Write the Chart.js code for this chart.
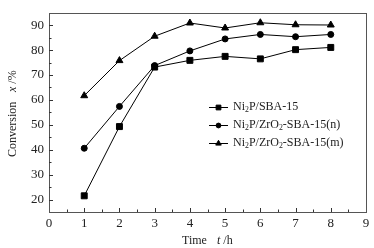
<!DOCTYPE html>
<html>
<head>
<meta charset="utf-8">
<script src="https://cdn.jsdelivr.net/npm/chart.js@4/dist/chart.umd.min.js"></script>
<style>
  html, body { margin: 0; padding: 0; background: #fff; }
  #wrap { width: 374px; height: 248px; }
</style>
</head>
<body>
<div id="wrap"><canvas id="chart" width="374" height="248"></canvas></div>
<script>
// time on stream, h
const hours = [1, 2, 3, 4, 5, 6, 7, 8];
// conversion x / %
const ni2pSba = [21.5, 49.3, 73.2, 75.9, 77.5, 76.5, 80.2, 81.1];
const ni2pZrN = [40.6, 57.4, 73.8, 79.7, 84.5, 86.3, 85.4, 86.3];
const ni2pZrM = [61.7, 75.8, 85.6, 90.9, 88.9, 91.0, 90.2, 90.1];

const seriesNames = ["Ni_2P/SBA-15", "Ni_2P/ZrO_2-SBA-15(n)", "Ni_2P/ZrO_2-SBA-15(m)"];
const yTicks = [20, 30, 40, 50, 60, 70, 80, 90];
const xTicks = [0, 1, 2, 3, 4, 5, 6, 7, 8, 9];

const serif = "'Liberation Serif', 'Times New Roman', serif";

function pts(ys) {
  return hours.map((h, i) => ({ x: h, y: ys[i] }));
}

// text with "_2" style subscripts
function drawSub(ctx, str, x, y, size) {
  const parts = str.split(/_(\d)/);
  for (let i = 0; i < parts.length; i++) {
    if (!parts[i]) continue;
    const sub = i % 2 === 1;
    ctx.font = (sub ? size * 0.65 : size) + "px " + serif;
    ctx.fillText(parts[i], x, sub ? y + 3 : y);
    x += ctx.measureText(parts[i]).width;
  }
}

const frame = {
  id: "frame",
  afterDraw(chart) {
    const ctx = chart.ctx;
    const a = chart.chartArea;
    const xs = chart.scales.x, ys = chart.scales.y;
    ctx.save();
    ctx.strokeStyle = "#555";
    ctx.lineWidth = 1;
    ctx.strokeRect(Math.round(a.left) + 0.5, Math.round(a.top) + 0.5,
      Math.round(a.right - a.left), Math.round(a.bottom - a.top));

    // inward ticks
    ctx.strokeStyle = "#333";
    ctx.beginPath();
    for (let v = 20; v <= 90; v += 5) {
      const py = Math.round(ys.getPixelForValue(v)) + 0.5;
      ctx.moveTo(a.left, py);
      ctx.lineTo(a.left + (v % 10 === 0 ? 4 : 2.5), py);
    }
    for (let v = 0.5; v < 9; v += 0.5) {
      const px = Math.round(xs.getPixelForValue(v)) + 0.5;
      ctx.moveTo(px, a.bottom);
      ctx.lineTo(px, a.bottom - (v % 1 === 0 ? 4 : 2.5));
    }
    ctx.stroke();

    // axis titles
    ctx.fillStyle = "#222";
    ctx.textBaseline = "middle";
    ctx.font = "12px " + serif;
    ctx.textAlign = "left";
    const tx = 182, ty = 241;
    ctx.fillText("Time", tx, ty);
    ctx.font = "italic 12px " + serif;
    ctx.fillText("t", 217, ty);
    ctx.font = "12px " + serif;
    ctx.fillText(" /h", 217 + ctx.measureText("t").width, ty);

    ctx.save();
    ctx.translate(13, 157);
    ctx.rotate(-Math.PI / 2);
    ctx.fillText("Conversion", 0, 0);
    ctx.font = "italic 12px " + serif;
    ctx.fillText("x", 65, 0);
    const w = ctx.measureText("x").width;
    ctx.font = "12px " + serif;
    ctx.fillText(" /%", 65 + w, 0);
    ctx.restore();

    // legend
    const lx = 209, ly = [107, 125, 143];
    chart.data.datasets.forEach((ds, i) => {
      ctx.strokeStyle = "#000";
      ctx.lineWidth = 1;
      ctx.beginPath();
      ctx.moveTo(lx, ly[i] + 0.5);
      ctx.lineTo(lx + 19, ly[i] + 0.5);
      ctx.stroke();
      ctx.fillStyle = "#000";
      Chart.helpers.drawPoint(ctx, {
        pointStyle: ds.pointStyle, radius: ds.pointRadius * 0.8,
        rotation: 0, borderWidth: 1
      }, lx + 9.5, ly[i] + 0.5);
      ctx.fillStyle = "#222";
      ctx.textBaseline = "middle";
      drawSub(ctx, seriesNames[i], 233, ly[i], 12);
    });
    ctx.restore();
  }
};

const mk = (ys, style, r) => ({
  data: pts(ys),
  borderColor: "#000",
  backgroundColor: "#000",
  borderWidth: 1,
  pointStyle: style,
  pointRadius: r,
  pointBorderWidth: 1,
  tension: 0
});

new Chart(document.getElementById("chart").getContext("2d"), {
  type: "line",
  data: {
    datasets: [
      mk(ni2pSba, "rect", 4.2),
      mk(ni2pZrN, "circle", 3),
      mk(ni2pZrM, "triangle", 4)
    ]
  },
  options: {
    responsive: false,
    animation: false,
    layout: { padding: { top: 4, right: 8, left: 0, bottom: 0 } },
    plugins: { legend: { display: false }, tooltip: { enabled: false } },
    scales: {
      x: {
        type: "linear",
        min: 0, max: 9,
        afterBuildTicks: s => { s.ticks = xTicks.map(v => ({ value: v })); },
        afterFit: s => { s.height = 36; },
        grid: { display: false, drawTicks: false },
        border: { display: false },
        ticks: { padding: 4, color: "#222", autoSkip: false, maxRotation: 0,
          font: { family: serif, size: 13 } }
      },
      y: {
        min: 15, max: 95,
        afterBuildTicks: s => { s.ticks = yTicks.map(v => ({ value: v })); },
        afterFit: s => { s.width = 49; },
        grid: { display: false, drawTicks: false },
        border: { display: false },
        ticks: { padding: 5, color: "#222", font: { family: serif, size: 13 } }
      }
    }
  },
  plugins: [frame]
});
</script>
</body>
</html>
